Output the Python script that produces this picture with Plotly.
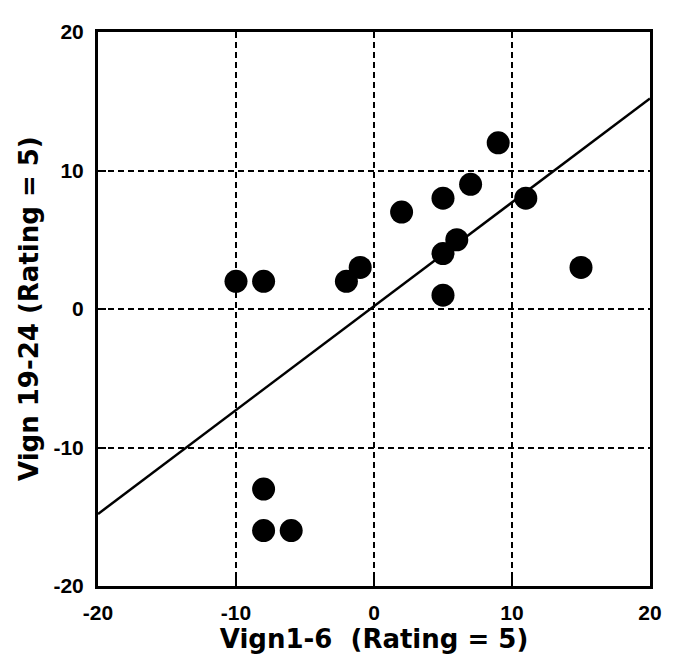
import plotly.graph_objects as go

x_vals = [-10, -8, -2, -1, 2, 5, 5, 5, 6, 7, 9, 11, 15, -8, -8, -6]
y_vals = [2, 2, 2, 3, 7, 8, 4, 1, 5, 9, 12, 8, 3, -13, -16, -16]
fit_x = [-20, 20]
fit_slope = 0.75
fit_intercept = 0.2
tick_vals = [-20, -10, 0, 10, 20]
tick_text = ["-20", "-10", "0", "10", "20"]

fit_y = [fit_slope * v + fit_intercept for v in fit_x]

fig = go.Figure()
fig.add_trace(go.Scatter(x=fit_x, y=fit_y, mode="lines",
                         line=dict(color="black", width=2.5), showlegend=False))
fig.add_trace(go.Scatter(x=x_vals, y=y_vals, mode="markers",
                         marker=dict(color="black", size=23, line=dict(width=0)),
                         showlegend=False))

axis_common = dict(
    range=[-20, 20], tickvals=tick_vals, ticktext=tick_text, showgrid=True,
    gridcolor="black", gridwidth=2, griddash="6px,4px", zeroline=False,
    showline=True, linecolor="black", linewidth=3, mirror=True,
    ticks="inside", ticklen=8, tickwidth=2, tickcolor="black",
    tickfont=dict(family="Liberation Sans", size=21, color="black", weight="bold"),
)
title_font = dict(family="DejaVu Sans", size=26, color="black", weight="bold")

fig.update_layout(
    width=666, height=648,
    margin=dict(l=90, r=16, t=14, b=69),
    plot_bgcolor="white", paper_bgcolor="white",
    xaxis=dict(**axis_common, ticklabelstandoff=6,
               title=dict(text="Vign1-6  (Rating = 5)", standoff=2, font=title_font)),
    yaxis=dict(**axis_common, ticklabelstandoff=7),
    annotations=[dict(text="Vign 19-24 (Rating = 5)", xref="paper", yref="paper",
                      x=-0.125, y=0.5, xanchor="center", yanchor="middle",
                      textangle=-90, showarrow=False, font=title_font)],
)
fig.write_html("out.html")
